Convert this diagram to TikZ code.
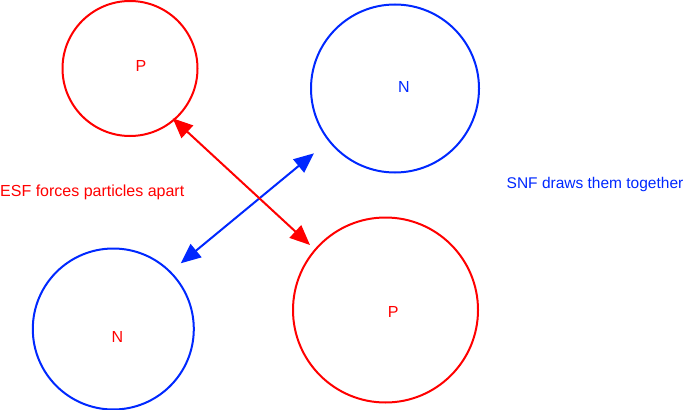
\documentclass[tikz,border=0pt]{standalone}
\usepackage{fontspec}
\setmainfont{Liberation Sans}
\usetikzlibrary{arrows.meta}
\pgfdeclarelayer{bg}
\pgfsetlayers{bg,main}
\definecolor{pred}{RGB}{255,0,0}
\definecolor{nblue}{RGB}{0,40,255}
\tikzset{
  particle/.style={circle, inner sep=0pt, line width=2pt},
  force/.style={line width=2pt, {Triangle[length=20pt,width=17pt]}-{Triangle[length=20pt,width=17pt]}},
  note/.style={inner sep=0pt, anchor=base west, font=\fontsize{16}{19}\selectfont}
}
\begin{document}
\begin{tikzpicture}[x=1pt, y=-1pt, label distance=0pt, every label/.style={font=\fontsize{16}{19}\selectfont, inner sep=0pt}]
        \useasboundingbox (0,0) rectangle (687,409);
        \node (p1) [particle, draw=pred, minimum size=135pt, label={[pred, xshift=11pt, yshift=2.2pt]center:P}] at (130,68.5) {};
        \node (n1) [particle, draw=nblue, minimum size=168pt, label={[nblue, xshift=8.8pt, yshift=1.8pt]center:N}] at (395,88.5) {};
        \node (n2) [particle, draw=nblue, minimum size=161pt, label={[pred, xshift=4.2pt, yshift=-7.7pt]center:N}] at (113.3,329) {};
        \node (p2) [particle, draw=pred, minimum size=185pt, label={[pred, xshift=7.8pt, yshift=-1.5pt]center:P}] at (385.5,310) {};
        \node (esf) [note, text=pred] at (0,196) {ESF forces particles apart};
        \node (snf) [note, text=nblue, font=\fontsize{15.5}{19}\selectfont] at (506.5,188) {SNF draws them together};
        \coordinate (e1) at (172.7,118.3);
        \coordinate (e2) at (310,245);
        \coordinate (s1) at (314,153.3);
        \coordinate (s2) at (180.7,263.3);
        \begin{pgfonlayer}{bg}
                \draw (s1) edge [force, nblue] (s2);
                \draw (e1) edge [force, pred] (e2);
        \end{pgfonlayer}
\end{tikzpicture}
\end{document}
